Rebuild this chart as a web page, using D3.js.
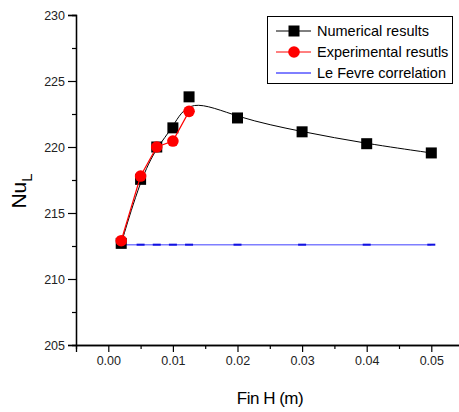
<!DOCTYPE html>
<html lang="en">
<head>
<meta charset="UTF-8">
<script src="https://d3js.org/d3.v7.min.js"></script>
<style>
  body { margin: 0; background: #fff; }
  text { font-family: "Liberation Sans", Arial, sans-serif; }
</style>
</head>
<body>
<div id="chart"></div>
<script>
// data
var finH = [0.002, 0.005, 0.0075, 0.01, 0.0125, 0.02, 0.03, 0.04, 0.05];
var numerical = [212.7, 217.55, 220.0, 221.45, 223.8, 222.2, 221.15, 220.25, 219.55];
var expH = [0.002, 0.005, 0.0075, 0.01, 0.0125];
var experimental = [212.9, 217.8, 220.0, 220.45, 222.7];
var leFevre = [212.6, 212.6, 212.6, 212.6, 212.6, 212.6, 212.6, 212.6, 212.6];
var xTicks = [0, 0.01, 0.02, 0.03, 0.04, 0.05];
var yTicks = [205, 210, 215, 220, 225, 230];
var legendNames = ["Numerical results", "Experimental resutls", "Le Fevre correlation"];

var W = 459, H = 412;
var svg = d3.select("#chart").append("svg").attr("width", W).attr("height", H);

var x = d3.scaleLinear().domain([-0.005, 0.055]).range([76, 463.6]);
var y = d3.scaleLinear().domain([205, 230]).range([345, 15]);

// axes
var xAxis = svg.append("g").attr("transform", "translate(0,345)");
xAxis.call(d3.axisBottom(x).tickValues(xTicks).tickSize(7).tickPadding(4)
  .tickFormat(d3.format(".2f")));
xAxis.append("g").call(d3.axisBottom(x).tickValues(d3.range(0.005, 0.056, 0.01)).tickSize(4).tickFormat(""));

var yAxis = svg.append("g").attr("transform", "translate(76,0)");
yAxis.call(d3.axisLeft(y).tickValues(yTicks).tickSize(8).tickPadding(3));
yAxis.append("g").call(d3.axisLeft(y).tickValues(d3.range(207.5, 230, 5)).tickSize(4).tickFormat(""));

svg.selectAll(".domain").attr("stroke", "#000").attr("stroke-width", 1.3);
svg.selectAll(".tick line").attr("stroke", "#000").attr("stroke-width", 1.2);
svg.selectAll(".tick text").attr("font-size", 12.5).attr("fill", "#222")
  .style("font-family", "Liberation Sans, Arial, sans-serif");

// axis titles
svg.append("text").attr("x", 270).attr("y", 404).attr("text-anchor", "middle")
  .attr("font-size", 17).attr("letter-spacing", -0.5).text("Fin H (m)");
var yt = svg.append("text").attr("transform", "translate(26,191) rotate(-90)")
  .attr("text-anchor", "middle").attr("font-size", 21);
yt.append("tspan").text("Nu");
yt.append("tspan").attr("dy", 6).attr("font-size", 15).text("L");

// Le Fevre line
var lineLin = d3.line().x(function (d) { return x(d[0]); }).y(function (d) { return y(d[1]); });
var lf = d3.zip(finH, leFevre);
svg.append("path").datum(lf).attr("d", lineLin).attr("fill", "none")
  .attr("stroke", "#7f7fff").attr("stroke-width", 1.4);
svg.selectAll(".lfm").data(lf).enter().append("rect")
  .attr("x", function (d) { return x(d[0]) - 4; }).attr("y", function (d) { return y(d[1]) - 1; })
  .attr("width", 8).attr("height", 2).attr("fill", "#1010e0");

// numerical results (smoothed)
var num = d3.zip(finH, numerical);
svg.append("path").datum(num).attr("d", lineLin.curve(d3.curveBasis)).attr("fill", "none")
  .attr("stroke", "#000").attr("stroke-width", 1);
svg.selectAll(".nm").data(num).enter().append("rect")
  .attr("x", function (d) { return x(d[0]) - 5.5; }).attr("y", function (d) { return y(d[1]) - 5.5; })
  .attr("width", 11).attr("height", 11).attr("fill", "#000");

// experimental
var exp = d3.zip(expH, experimental);
svg.append("path").datum(exp).attr("d", lineLin.curve(d3.curveLinear)).attr("fill", "none")
  .attr("stroke", "#f00").attr("stroke-width", 1.2);
svg.selectAll(".em").data(exp).enter().append("circle")
  .attr("cx", function (d) { return x(d[0]); }).attr("cy", function (d) { return y(d[1]); })
  .attr("r", 5.8).attr("fill", "#f00");

// legend
var lg = svg.append("g");
lg.append("rect").attr("x", 267.5).attr("y", 16.5).attr("width", 185).attr("height", 67)
  .attr("fill", "#fff").attr("stroke", "#000").attr("stroke-width", 1);
var colors = ["#000", "#f00", "#00f"];
legendNames.forEach(function (name, i) {
  var ly = 31 + i * 21;
  lg.append("line").attr("x1", 276).attr("x2", 311).attr("y1", ly).attr("y2", ly)
    .attr("stroke", colors[i]).attr("stroke-width", 1);
  if (i === 0) lg.append("rect").attr("x", 288.5).attr("y", ly - 5.5).attr("width", 11).attr("height", 11).attr("fill", "#000");
  if (i === 1) lg.append("circle").attr("cx", 294).attr("cy", ly).attr("r", 5.8).attr("fill", "#f00");
  if (i === 2) lg.append("rect").attr("x", 290).attr("y", ly - 1).attr("width", 8).attr("height", 2).attr("fill", "#7f7fff");
  lg.append("text").attr("x", 317).attr("y", ly + 5).attr("font-size", 14.5).text(name);
});
</script>
</body>
</html>
